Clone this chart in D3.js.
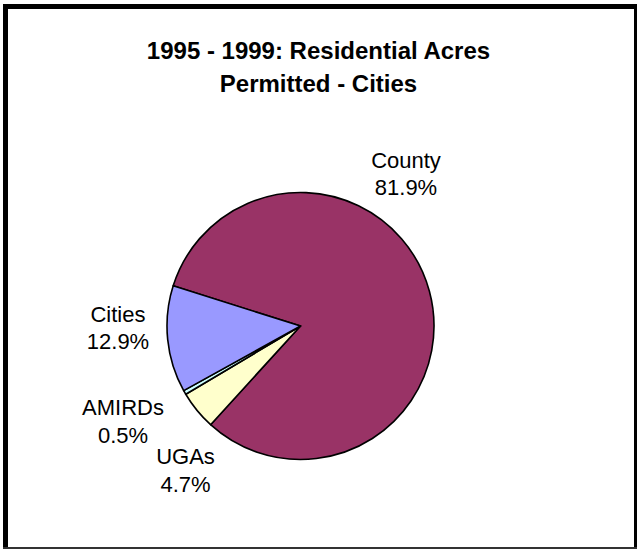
<!DOCTYPE html>
<html>
<head>
<meta charset="utf-8">
<script src="https://cdn.jsdelivr.net/npm/d3@7"></script>
<style>
  html, body { margin: 0; padding: 0; background: #fff; }
  svg { display: block; }
  text { font-family: "Liberation Sans", Arial, sans-serif; }
</style>
</head>
<body>
<svg id="chart" width="637" height="551"></svg>
<script>
const titleLines = ["1995 - 1999: Residential Acres", "Permitted - Cities"];
const categories = ["County", "UGAs", "AMIRDs", "Cities"];
const values = [81.9, 4.7, 0.5, 12.9];
const valueLabels = ["81.9%", "4.7%", "0.5%", "12.9%"];
const colors = ["#993366", "#FFFFCC", "#CCFFFF", "#9999FF"];

const svg = d3.select("#chart");
const W = 637, H = 551;

// frame
svg.append("rect").attr("x", 0).attr("y", 0).attr("width", W).attr("height", H).attr("fill", "#fff");
svg.append("line").attr("x1", 5.5).attr("x2", 5.5).attr("y1", 4).attr("y2", 549).attr("stroke", "#000").attr("stroke-width", 5);
svg.append("line").attr("x1", 3).attr("x2", 637).attr("y1", 6.5).attr("y2", 6.5).attr("stroke", "#000").attr("stroke-width", 5);
svg.append("line").attr("x1", 635.5).attr("x2", 635.5).attr("y1", 4).attr("y2", 549).attr("stroke", "#000").attr("stroke-width", 3);
svg.append("line").attr("x1", 3).attr("x2", 637).attr("y1", 548).attr("y2", 548).attr("stroke", "#333").attr("stroke-width", 2);

// title
const title = svg.append("text")
  .attr("x", 318.5).attr("y", 59)
  .attr("text-anchor", "middle")
  .attr("font-weight", "bold").attr("font-size", 24)
  .attr("fill", "#000");
titleLines.forEach((t, i) => {
  title.append("tspan").attr("x", 318.5).attr("dy", i === 0 ? 0 : 33).text(t);
});

// pie
const cx = 300.5, cy = 326, r = 133.5;
const startDeg = -72.5;
const pie = d3.pie().sort(null).value(d => d.v)
  .startAngle(startDeg * Math.PI / 180)
  .endAngle((startDeg + 360) * Math.PI / 180);
const data = categories.map((c, i) => ({ c, v: values[i], col: colors[i], lbl: valueLabels[i] }));
const arcs = pie(data);
const arc = d3.arc().innerRadius(0).outerRadius(r);
const g = svg.append("g").attr("transform", `translate(${cx},${cy})`);
g.selectAll("path").data(arcs).enter().append("path")
  .attr("d", arc)
  .attr("fill", d => d.data.col)
  .attr("stroke", "#000")
  .attr("stroke-width", 1.6)
  .attr("stroke-linejoin", "round");

// labels (positioned outside, along the slice mid-angle)
const labelPos = {
  "County": [406, 167.5],
  "Cities": [118, 321.5],
  "AMIRDs": [123, 415],
  "UGAs": [185.5, 464]
};
const lg = svg.append("g");
data.forEach(d => {
  const [x, y] = labelPos[d.c];
  const t = lg.append("text").attr("x", x).attr("y", y)
    .attr("text-anchor", "middle").attr("font-size", 22).attr("fill", "#000");
  t.append("tspan").attr("x", x).attr("dy", 0).text(d.c);
  t.append("tspan").attr("x", x).attr("dy", 27.5).text(d.lbl);
});
</script>
</body>
</html>
